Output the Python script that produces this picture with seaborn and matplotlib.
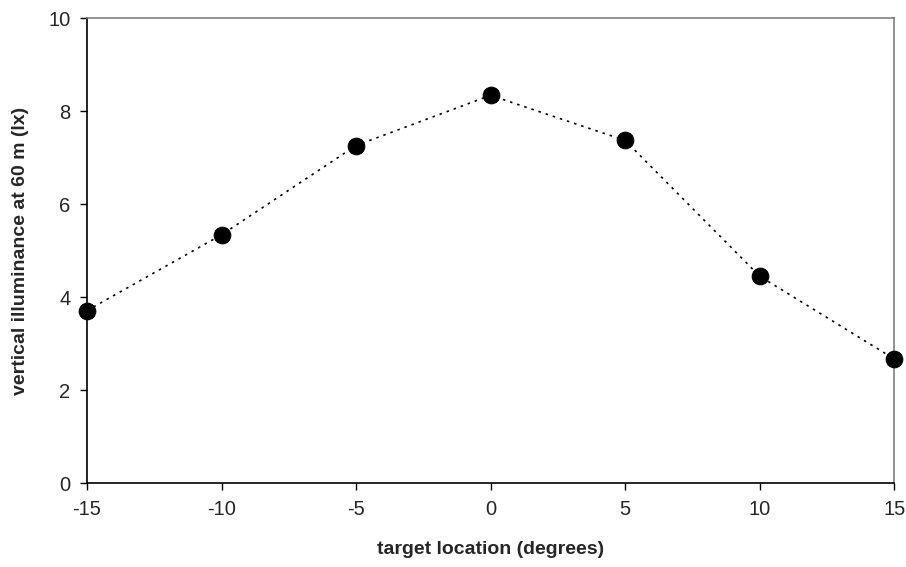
import matplotlib
matplotlib.use("Agg")
import matplotlib.pyplot as plt
import seaborn as sns
import pandas as pd

# data
target_location = [-15, -10, -5, 0, 5, 10, 15]
illuminance = [3.71, 5.34, 7.26, 8.34, 7.37, 4.45, 2.67]

df = pd.DataFrame({"loc": target_location, "lux": illuminance})

sns.set_style("white")
plt.rcParams["font.family"] = ["Liberation Sans", "DejaVu Sans"]
plt.rcParams["axes.unicode_minus"] = False

fig = plt.figure(figsize=(9.06, 5.67), dpi=100)
ax = fig.add_axes([0.096, 0.148, 0.891, 0.82])

sns.lineplot(data=df, x="loc", y="lux", ax=ax, color="black",
             linestyle=(0, (1.5, 3)), linewidth=1.2, marker="o",
             markersize=12, markeredgecolor="black", markerfacecolor="black",
             clip_on=False, zorder=5)

ax.set_xlim(-15, 15)
ax.set_ylim(0, 10)
ax.set_xticks(range(-15, 16, 5))
ax.set_yticks(range(0, 11, 2))
ax.tick_params(axis="both", direction="out", length=5, width=1, color="black",
               labelsize=14.5, bottom=True, left=True, pad=7)

for side in ["left", "bottom"]:
    ax.spines[side].set_color("black")
    ax.spines[side].set_linewidth(1.2)
for side in ["top", "right"]:
    ax.spines[side].set_color("#808080")
    ax.spines[side].set_linewidth(1.2)

ax.set_xlabel("target location (degrees)", fontsize=14, fontweight="bold", labelpad=16)
ax.set_ylabel("vertical illuminance at 60 m (lx)", fontsize=14, fontweight="bold", labelpad=14)

fig.savefig("out.png", dpi=100)
